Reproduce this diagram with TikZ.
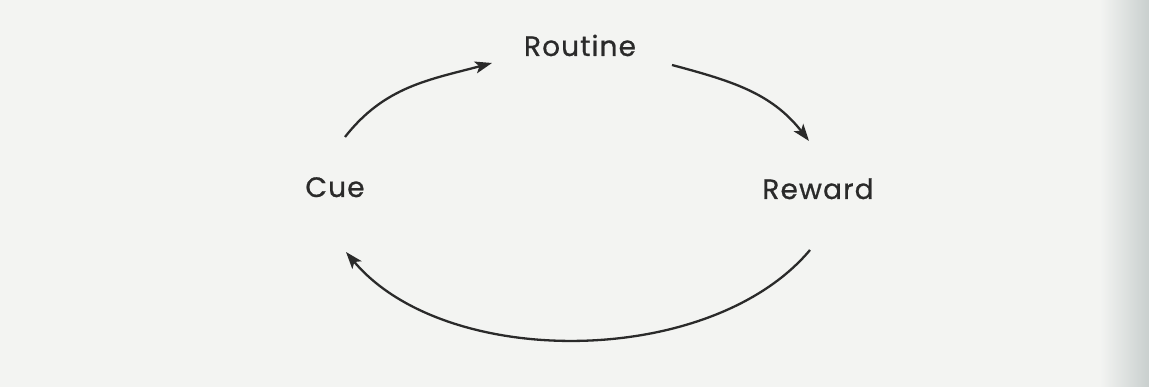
\documentclass[tikz,border=0pt]{standalone}
\usepackage{fontspec}
\newfontfamily\labelfont[LetterSpace=4,FakeBold=0.7]{Poppins}
\usetikzlibrary{arrows.meta,calc}
\definecolor{paper}{HTML}{F3F4F2}
\definecolor{gutter}{HTML}{C9CFCE}
\definecolor{ink}{HTML}{2A2A2A}
\tikzset{
  lbl/.style={font=\labelfont\fontsize{28}{28}\selectfont, text=ink, inner sep=0pt, anchor=base},
  loop/.style={draw=ink, line width=2.3pt, -{Stealth[length=17pt,width=12pt,inset=4pt]}},
}
\begin{document}
\begin{tikzpicture}[x=1pt,y=1pt]
\useasboundingbox (0,0) rectangle (1149,387);
\fill[paper] (0,0) rectangle (1149,387);
\shade[left color=paper, right color=gutter] (1100,0) rectangle (1149,387);
\node[lbl] (routine) at (580,331) {Routine};
\node[lbl] (cue) at (335,190) {Cue};
\node[lbl] (reward) at (818,188) {Reward};
\draw[loop] ($(cue.base)+(10,60)$) to[out=52,in=195] ($(routine.base)+(-88,-7)$);
\draw[loop] ($(routine.base)+(92,-9)$) to[out=-15,in=128] ($(reward.base)+(-9,58)$);
\draw[loop] ($(reward.base)+(-8,-51)$) to[out=-130,in=-50,looseness=0.85] ($(cue.base)+(11,-55)$);
\end{tikzpicture}
\end{document}
